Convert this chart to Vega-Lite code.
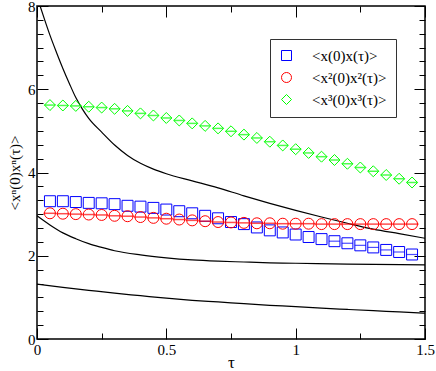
{
  "$schema": "https://vega.github.io/schema/vega-lite/v6.json",
  "width": 388,
  "height": 333,
  "autosize": {"type": "none"},
  "padding": {"left": 37, "top": 6, "right": 11, "bottom": 32},
  "background": "white",
  "config": {
    "font": "Liberation Serif",
    "view": {"stroke": "black", "strokeWidth": 1.5},
    "axis": {
      "domain": false,
      "grid": false,
      "tickColor": "black",
      "tickWidth": 1,
      "labelFont": "Liberation Serif",
      "labelFontSize": 15,
      "labelColor": "black",
      "titleFont": "Liberation Serif",
      "titleColor": "black",
      "titleFontWeight": "normal"
    },
    "legend": {
      "labelFont": "Liberation Serif",
      "labelFontSize": 15,
      "labelColor": "black"
    }
  },
  "datasets": {
    "curves": [
      {"curve": "A", "t": 0.012, "v": 8.0},
      {"curve": "A", "t": 0.03, "v": 7.66},
      {"curve": "A", "t": 0.05, "v": 7.3},
      {"curve": "A", "t": 0.075, "v": 6.89},
      {"curve": "A", "t": 0.1, "v": 6.5},
      {"curve": "A", "t": 0.125, "v": 6.14},
      {"curve": "A", "t": 0.15, "v": 5.8},
      {"curve": "A", "t": 0.175, "v": 5.53},
      {"curve": "A", "t": 0.2, "v": 5.3},
      {"curve": "A", "t": 0.25, "v": 4.97},
      {"curve": "A", "t": 0.3, "v": 4.66},
      {"curve": "A", "t": 0.35, "v": 4.41},
      {"curve": "A", "t": 0.4, "v": 4.22},
      {"curve": "A", "t": 0.45, "v": 4.08},
      {"curve": "A", "t": 0.5, "v": 3.97},
      {"curve": "A", "t": 0.6, "v": 3.8},
      {"curve": "A", "t": 0.7, "v": 3.63},
      {"curve": "A", "t": 0.8, "v": 3.44},
      {"curve": "A", "t": 0.9, "v": 3.26},
      {"curve": "A", "t": 1.0, "v": 3.09},
      {"curve": "A", "t": 1.1, "v": 2.93},
      {"curve": "A", "t": 1.2, "v": 2.78},
      {"curve": "A", "t": 1.3, "v": 2.64},
      {"curve": "A", "t": 1.4, "v": 2.53},
      {"curve": "A", "t": 1.5, "v": 2.42},
      {"curve": "B", "t": 0.0, "v": 2.96},
      {"curve": "B", "t": 0.05, "v": 2.74},
      {"curve": "B", "t": 0.1, "v": 2.55},
      {"curve": "B", "t": 0.15, "v": 2.41},
      {"curve": "B", "t": 0.2, "v": 2.29},
      {"curve": "B", "t": 0.25, "v": 2.2},
      {"curve": "B", "t": 0.3, "v": 2.12},
      {"curve": "B", "t": 0.4, "v": 2.02},
      {"curve": "B", "t": 0.5, "v": 1.95},
      {"curve": "B", "t": 0.6, "v": 1.9},
      {"curve": "B", "t": 0.7, "v": 1.87},
      {"curve": "B", "t": 0.8, "v": 1.85},
      {"curve": "B", "t": 0.9, "v": 1.83},
      {"curve": "B", "t": 1.0, "v": 1.82},
      {"curve": "B", "t": 1.2, "v": 1.8},
      {"curve": "B", "t": 1.5, "v": 1.78},
      {"curve": "C", "t": 0.0, "v": 1.32},
      {"curve": "C", "t": 0.1, "v": 1.24},
      {"curve": "C", "t": 0.2, "v": 1.17},
      {"curve": "C", "t": 0.3, "v": 1.1},
      {"curve": "C", "t": 0.4, "v": 1.04},
      {"curve": "C", "t": 0.5, "v": 0.98},
      {"curve": "C", "t": 0.6, "v": 0.93},
      {"curve": "C", "t": 0.7, "v": 0.89},
      {"curve": "C", "t": 0.8, "v": 0.85},
      {"curve": "C", "t": 0.9, "v": 0.81},
      {"curve": "C", "t": 1.0, "v": 0.78},
      {"curve": "C", "t": 1.1, "v": 0.74},
      {"curve": "C", "t": 1.2, "v": 0.71},
      {"curve": "C", "t": 1.3, "v": 0.68},
      {"curve": "C", "t": 1.4, "v": 0.65},
      {"curve": "C", "t": 1.5, "v": 0.62}
    ],
    "points": [
      {"series": "<x(0)x(τ)>", "t": 0.05, "v": 3.31},
      {"series": "<x(0)x(τ)>", "t": 0.1, "v": 3.31},
      {"series": "<x(0)x(τ)>", "t": 0.15, "v": 3.29},
      {"series": "<x(0)x(τ)>", "t": 0.2, "v": 3.27},
      {"series": "<x(0)x(τ)>", "t": 0.25, "v": 3.26},
      {"series": "<x(0)x(τ)>", "t": 0.3, "v": 3.24},
      {"series": "<x(0)x(τ)>", "t": 0.35, "v": 3.2},
      {"series": "<x(0)x(τ)>", "t": 0.4, "v": 3.18},
      {"series": "<x(0)x(τ)>", "t": 0.45, "v": 3.15},
      {"series": "<x(0)x(τ)>", "t": 0.5, "v": 3.11},
      {"series": "<x(0)x(τ)>", "t": 0.55, "v": 3.07},
      {"series": "<x(0)x(τ)>", "t": 0.6, "v": 3.02},
      {"series": "<x(0)x(τ)>", "t": 0.65, "v": 2.96},
      {"series": "<x(0)x(τ)>", "t": 0.7, "v": 2.9},
      {"series": "<x(0)x(τ)>", "t": 0.75, "v": 2.81},
      {"series": "<x(0)x(τ)>", "t": 0.8, "v": 2.76},
      {"series": "<x(0)x(τ)>", "t": 0.85, "v": 2.68},
      {"series": "<x(0)x(τ)>", "t": 0.9, "v": 2.61},
      {"series": "<x(0)x(τ)>", "t": 0.95, "v": 2.56},
      {"series": "<x(0)x(τ)>", "t": 1.0, "v": 2.51},
      {"series": "<x(0)x(τ)>", "t": 1.05, "v": 2.45},
      {"series": "<x(0)x(τ)>", "t": 1.1, "v": 2.4},
      {"series": "<x(0)x(τ)>", "t": 1.15, "v": 2.35},
      {"series": "<x(0)x(τ)>", "t": 1.2, "v": 2.3},
      {"series": "<x(0)x(τ)>", "t": 1.25, "v": 2.25},
      {"series": "<x(0)x(τ)>", "t": 1.3, "v": 2.2},
      {"series": "<x(0)x(τ)>", "t": 1.35, "v": 2.14},
      {"series": "<x(0)x(τ)>", "t": 1.4, "v": 2.09},
      {"series": "<x(0)x(τ)>", "t": 1.45, "v": 2.03},
      {"series": "<x²(0)x²(τ)>", "t": 0.05, "v": 3.02},
      {"series": "<x²(0)x²(τ)>", "t": 0.1, "v": 3.01},
      {"series": "<x²(0)x²(τ)>", "t": 0.15, "v": 3.0},
      {"series": "<x²(0)x²(τ)>", "t": 0.2, "v": 2.99},
      {"series": "<x²(0)x²(τ)>", "t": 0.25, "v": 2.98},
      {"series": "<x²(0)x²(τ)>", "t": 0.3, "v": 2.96},
      {"series": "<x²(0)x²(τ)>", "t": 0.35, "v": 2.95},
      {"series": "<x²(0)x²(τ)>", "t": 0.4, "v": 2.93},
      {"series": "<x²(0)x²(τ)>", "t": 0.45, "v": 2.91},
      {"series": "<x²(0)x²(τ)>", "t": 0.5, "v": 2.89},
      {"series": "<x²(0)x²(τ)>", "t": 0.55, "v": 2.87},
      {"series": "<x²(0)x²(τ)>", "t": 0.6, "v": 2.85},
      {"series": "<x²(0)x²(τ)>", "t": 0.65, "v": 2.83},
      {"series": "<x²(0)x²(τ)>", "t": 0.7, "v": 2.81},
      {"series": "<x²(0)x²(τ)>", "t": 0.75, "v": 2.8},
      {"series": "<x²(0)x²(τ)>", "t": 0.8, "v": 2.79},
      {"series": "<x²(0)x²(τ)>", "t": 0.85, "v": 2.78},
      {"series": "<x²(0)x²(τ)>", "t": 0.9, "v": 2.78},
      {"series": "<x²(0)x²(τ)>", "t": 0.95, "v": 2.77},
      {"series": "<x²(0)x²(τ)>", "t": 1.0, "v": 2.77},
      {"series": "<x²(0)x²(τ)>", "t": 1.05, "v": 2.77},
      {"series": "<x²(0)x²(τ)>", "t": 1.1, "v": 2.76},
      {"series": "<x²(0)x²(τ)>", "t": 1.15, "v": 2.76},
      {"series": "<x²(0)x²(τ)>", "t": 1.2, "v": 2.76},
      {"series": "<x²(0)x²(τ)>", "t": 1.25, "v": 2.76},
      {"series": "<x²(0)x²(τ)>", "t": 1.3, "v": 2.76},
      {"series": "<x²(0)x²(τ)>", "t": 1.35, "v": 2.76},
      {"series": "<x²(0)x²(τ)>", "t": 1.4, "v": 2.76},
      {"series": "<x²(0)x²(τ)>", "t": 1.45, "v": 2.76},
      {"series": "<x³(0)x³(τ)>", "t": 0.05, "v": 5.62},
      {"series": "<x³(0)x³(τ)>", "t": 0.1, "v": 5.61},
      {"series": "<x³(0)x³(τ)>", "t": 0.15, "v": 5.6},
      {"series": "<x³(0)x³(τ)>", "t": 0.2, "v": 5.58},
      {"series": "<x³(0)x³(τ)>", "t": 0.25, "v": 5.56},
      {"series": "<x³(0)x³(τ)>", "t": 0.3, "v": 5.53},
      {"series": "<x³(0)x³(τ)>", "t": 0.35, "v": 5.48},
      {"series": "<x³(0)x³(τ)>", "t": 0.4, "v": 5.42},
      {"series": "<x³(0)x³(τ)>", "t": 0.45, "v": 5.37},
      {"series": "<x³(0)x³(τ)>", "t": 0.5, "v": 5.31},
      {"series": "<x³(0)x³(τ)>", "t": 0.55, "v": 5.25},
      {"series": "<x³(0)x³(τ)>", "t": 0.6, "v": 5.18},
      {"series": "<x³(0)x³(τ)>", "t": 0.65, "v": 5.12},
      {"series": "<x³(0)x³(τ)>", "t": 0.7, "v": 5.06},
      {"series": "<x³(0)x³(τ)>", "t": 0.75, "v": 4.99},
      {"series": "<x³(0)x³(τ)>", "t": 0.8, "v": 4.91},
      {"series": "<x³(0)x³(τ)>", "t": 0.85, "v": 4.83},
      {"series": "<x³(0)x³(τ)>", "t": 0.9, "v": 4.74},
      {"series": "<x³(0)x³(τ)>", "t": 0.95, "v": 4.65},
      {"series": "<x³(0)x³(τ)>", "t": 1.0, "v": 4.56},
      {"series": "<x³(0)x³(τ)>", "t": 1.05, "v": 4.47},
      {"series": "<x³(0)x³(τ)>", "t": 1.1, "v": 4.38},
      {"series": "<x³(0)x³(τ)>", "t": 1.15, "v": 4.3},
      {"series": "<x³(0)x³(τ)>", "t": 1.2, "v": 4.21},
      {"series": "<x³(0)x³(τ)>", "t": 1.25, "v": 4.12},
      {"series": "<x³(0)x³(τ)>", "t": 1.3, "v": 4.03},
      {"series": "<x³(0)x³(τ)>", "t": 1.35, "v": 3.94},
      {"series": "<x³(0)x³(τ)>", "t": 1.4, "v": 3.85},
      {"series": "<x³(0)x³(τ)>", "t": 1.45, "v": 3.76}
    ]
  },
  "resolve": {"axis": {"x": "independent", "y": "independent"}},
  "layer": [
    {
      "data": {"name": "curves"},
      "mark": {"type": "line", "color": "black", "strokeWidth": 1.2, "interpolate": "monotone", "clip": true},
      "encoding": {
        "x": {"field": "t", "type": "quantitative",
              "scale": {"domain": [0, 1.5], "nice": false, "zero": false},
              "axis": {"orient": "bottom", "values": [0, 0.5, 1, 1.5], "format": "~g", "tickSize": -11, "labelPadding": 14, "labelFlush": false, "labelOverlap": false, "title": "τ", "titleFontSize": 17, "titlePadding": -3}},
        "y": {"field": "v", "type": "quantitative",
              "scale": {"domain": [0, 8], "nice": false, "zero": false},
              "axis": {"orient": "left", "values": [0, 2, 4, 6, 8], "format": "d", "tickSize": -11, "labelPadding": 13, "labelFlush": false, "labelOverlap": false, "title": "<xⁿ(0)xⁿ(τ)>", "titleFontSize": 15, "titlePadding": 5}},
        "detail": {"field": "curve"}
      }
    },
    {
      "data": {"name": "points"},
      "mark": {"type": "point", "filled": false, "strokeWidth": 1, "opacity": 1},
      "encoding": {
        "x": {"field": "t", "type": "quantitative",
              "scale": {"domain": [0, 1.5], "nice": false, "zero": false},
              "axis": {"orient": "bottom", "values": [0.25, 0.75, 1.25], "tickSize": -6, "labels": false, "title": null}},
        "y": {"field": "v", "type": "quantitative",
              "scale": {"domain": [0, 8], "nice": false, "zero": false},
              "axis": {"orient": "left", "values": [0.3333, 0.6667, 1, 1.3333, 1.6667, 2.3333, 2.6667, 3, 3.3333, 3.6667, 4.3333, 4.6667, 5, 5.3333, 5.6667, 6.3333, 6.6667, 7, 7.3333, 7.6667], "tickSize": -6, "labels": false, "title": null}},
        "color": {"field": "series", "type": "nominal",
                  "scale": {"domain": ["<x(0)x(τ)>", "<x²(0)x²(τ)>", "<x³(0)x³(τ)>"], "range": ["#0000ff", "#ff0000", "#00ff00"]},
                  "legend": {"title": null, "orient": "none", "legendX": 233, "legendY": 33, "strokeColor": "#333333", "fillColor": "white", "padding": 9, "symbolSize": 100, "symbolStrokeWidth": 1, "labelOffset": 18, "rowPadding": 6}},
        "shape": {"field": "series", "type": "nominal",
                  "scale": {"domain": ["<x(0)x(τ)>", "<x²(0)x²(τ)>", "<x³(0)x³(τ)>"], "range": ["square", "circle", "diamond"]}},
        "size": {"value": 120}
      }
    },
    {
      "data": {"name": "points"},
      "transform": [{"filter": {"field": "series", "equal": "<x²(0)x²(τ)>"}}],
      "mark": {"type": "tick", "orient": "horizontal", "color": "#ff0000", "size": 13, "thickness": 1.5},
      "encoding": {
        "x": {"field": "t", "type": "quantitative",
              "scale": {"domain": [0, 1.5], "nice": false, "zero": false},
              "axis": {"orient": "top", "values": [0, 0.5, 1, 1.5], "tickSize": -11, "labels": false, "title": null}},
        "y": {"field": "v", "type": "quantitative",
              "scale": {"domain": [0, 8], "nice": false, "zero": false},
              "axis": {"orient": "right", "values": [0, 2, 4, 6, 8], "tickSize": -11, "labels": false, "title": null}}
      }
    },
    {
      "data": {"name": "points"},
      "transform": [{"filter": {"field": "series", "equal": "<x³(0)x³(τ)>"}}],
      "mark": {"type": "tick", "orient": "horizontal", "color": "#00ff00", "size": 11, "thickness": 1.5},
      "encoding": {
        "x": {"field": "t", "type": "quantitative",
              "scale": {"domain": [0, 1.5], "nice": false, "zero": false},
              "axis": {"orient": "top", "values": [0.25, 0.75, 1.25], "tickSize": -6, "labels": false, "title": null}},
        "y": {"field": "v", "type": "quantitative",
              "scale": {"domain": [0, 8], "nice": false, "zero": false},
              "axis": {"orient": "right", "values": [0.3333, 0.6667, 1, 1.3333, 1.6667, 2.3333, 2.6667, 3, 3.3333, 3.6667, 4.3333, 4.6667, 5, 5.3333, 5.6667, 6.3333, 6.6667, 7, 7.3333, 7.6667], "tickSize": -6, "labels": false, "title": null}}
      }
    },
    {
      "data": {"name": "points"},
      "transform": [{"filter": {"and": [{"field": "series", "equal": "<x(0)x(τ)>"}, {"field": "t", "gte": 1.15}]}}],
      "mark": {"type": "tick", "orient": "horizontal", "color": "#0000ff", "size": 11, "thickness": 1.2},
      "encoding": {
        "x": {"field": "t", "type": "quantitative",
              "scale": {"domain": [0, 1.5], "nice": false, "zero": false}, "axis": null},
        "y": {"field": "v", "type": "quantitative",
              "scale": {"domain": [0, 8], "nice": false, "zero": false}, "axis": null}
      }
    }
  ]
}
